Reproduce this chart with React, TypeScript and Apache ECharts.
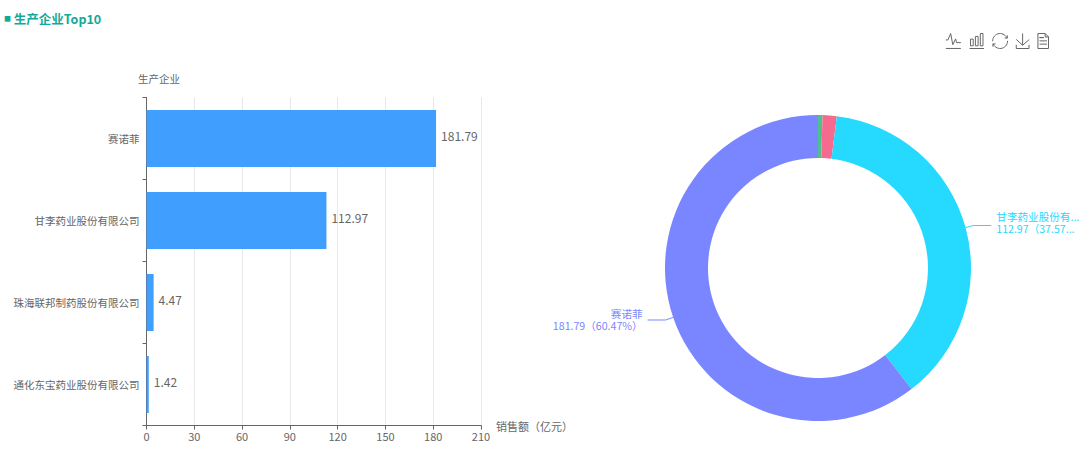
import React, { useEffect, useRef } from "react";
import * as echarts from "echarts";

const categories = ["通化东宝药业股份有限公司", "珠海联邦制药股份有限公司", "甘李药业股份有限公司", "赛诺菲"];
const values = [1.42, 4.47, 112.97, 181.79];
const pieColors = ["#4fc08d", "#f56a8e", "#25d9ff", "#7a86ff"];
const labelled = ["甘李药业股份有限公司", "赛诺菲"];
const labelWidths = [80, 80, 85, 110];
const FONT = '"Noto Sans CJK SC", "Noto Sans", sans-serif';

export default function App() {
  const ref = useRef<HTMLDivElement>(null);
  useEffect(() => {
    document.body.style.margin = "0";
    const chart = echarts.init(ref.current!, undefined, { renderer: "svg" });
    chart.setOption({
      animation: false,
      backgroundColor: "#fff",
      textStyle: { fontFamily: FONT },
      title: {
        text: "{s|■} 生产企业Top10",
        left: -1,
        top: 7,
        textStyle: {
          color: "#14a898",
          fontSize: 12.5,
          fontWeight: "bold",
          fontFamily: FONT,
          rich: {
            s: { color: "#14a898", fontSize: 7, fontWeight: "bold", fontFamily: FONT },
          },
        },
      },
      toolbox: {
        right: 14,
        top: 16,
        itemSize: 15,
        itemGap: 3.7,
        iconStyle: { borderColor: "#666", borderWidth: 1 },
        feature: {
          magicType: { type: ["line", "bar"] },
          restore: {},
          saveAsImage: {},
          dataView: {},
        },
      },
      grid: { left: 146.5, top: 97.5, width: 334.5, height: 328, containLabel: false },
      xAxis: {
        type: "value",
        min: 0,
        max: 210,
        interval: 30,
        name: "销售额（亿元）",
        nameLocation: "end",
        nameGap: 10,
        nameTextStyle: { color: "#666", fontSize: 11, verticalAlign: "middle", padding: [0, 0, 3, 0] },
        axisLine: { show: true, lineStyle: { color: "#666" } },
        axisTick: { show: true, length: 4, lineStyle: { color: "#666" } },
        axisLabel: { color: "#666", fontSize: 11, margin: 5 },
        splitLine: { show: true, lineStyle: { color: "#e8e8e8" } },
      },
      yAxis: {
        type: "category",
        data: categories,
        name: "生产企业",
        nameLocation: "end",
        nameGap: 14,
        nameTextStyle: { color: "#666", fontSize: 10.5, align: "center", padding: [0, 0, 0, 25] },
        axisLine: { show: true, lineStyle: { color: "#666" } },
        axisTick: { show: true, length: 4, lineStyle: { color: "#666" } },
        axisLabel: { color: "#666", fontSize: 10.5, margin: 7, padding: [0, 0, 3, 0] },
        splitLine: { show: false },
      },
      series: [
        {
          type: "bar",
          data: values,
          barWidth: 57,
          itemStyle: { color: "#409eff" },
          label: { show: true, position: "right", color: "#666", fontSize: 12, distance: 5, offset: [0, -3] },
        },
        {
          type: "pie",
          center: [818, 268],
          radius: [110, 153],
          startAngle: 90,
          clockwise: true,
          avoidLabelOverlap: false,
          data: categories.map((name, i) => ({
            name,
            value: values[i],
            itemStyle: { color: pieColors[i] },
            label: { show: labelled.includes(name), color: pieColors[i], width: labelWidths[i] },
            labelLine: { show: labelled.includes(name), lineStyle: { color: pieColors[i] } },
          })),
          label: {
            formatter: (p: any) => `${p.name}\n${p.value}（${p.percent.toFixed(2)}%）`,
            fontSize: 10.6,
            lineHeight: 12,
            overflow: "truncate",
            ellipsis: "...",
          },
          labelLine: { length: 8, length2: 18, lineStyle: { width: 1 } },
          labelLayout: (p: any) => (p.dataIndex === 2 ? { dy: -3 } : { dy: 0 }),
        },
      ],
    });
    return () => chart.dispose();
  }, []);
  return <div ref={ref} style={{ width: 1080, height: 468 }} />;
}
